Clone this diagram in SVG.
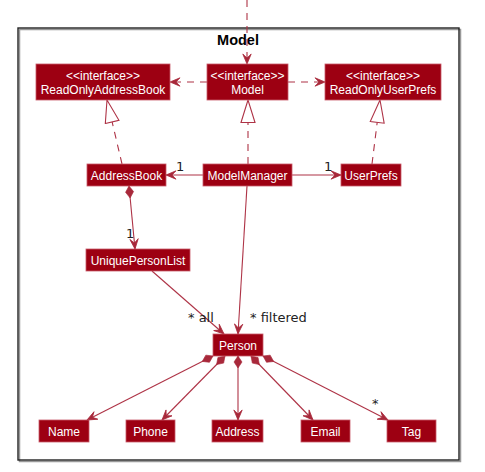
<svg xmlns="http://www.w3.org/2000/svg" width="485" height="472" viewBox="0 0 485 472">
<style>
.box{fill:#9D0012;stroke:#C85A6A;stroke-width:0.8}
.t{fill:#FFFFFF;font-family:"Liberation Sans",Arial,sans-serif;font-size:12px;text-anchor:middle}
.ln{fill:none;stroke:#AE3346;stroke-width:1.1}
.dash{stroke-dasharray:7,6}
.lbl{fill:#222;font-family:"DejaVu Sans",sans-serif;font-size:13px}
.ttl{fill:#000;font-family:"Liberation Sans",Arial,sans-serif;font-size:14.5px;font-weight:bold;text-anchor:middle}
</style>
<defs>
<marker id="arr" markerWidth="12" markerHeight="10" refX="11" refY="5" orient="auto" markerUnits="userSpaceOnUse">
<path d="M11,5 L1,0.8 L5,5 L1,9.2 Z" fill="#A8283A" stroke="#A8283A" stroke-width="0.8"/>
</marker>
<marker id="tri" markerWidth="25" markerHeight="17" refX="23.5" refY="8" orient="auto" markerUnits="userSpaceOnUse">
<path d="M23.5,8 L1,1 L1,15 Z" fill="#FFFFFF" stroke="#AE3346" stroke-width="1.1"/>
</marker>
<marker id="dia" markerWidth="14" markerHeight="10" refX="0.5" refY="5" orient="auto" markerUnits="userSpaceOnUse">
<path d="M0.5,5 L6.5,1 L12.5,5 L6.5,9 Z" fill="#A8283A" stroke="#A8283A" stroke-width="0.6"/>
</marker>
</defs>
<rect x="0" y="0" width="485" height="472" fill="#FFFFFF"/>
<g id="frame">
<rect x="19.5" y="29.5" width="441" height="432" fill="none" stroke="#999" stroke-width="1.5"/>
<rect x="18" y="28" width="441" height="432" fill="none" stroke="#222" stroke-width="1.4"/>
<text class="ttl" x="238" y="45">Model</text>
</g>
<g id="connectors">
<line class="ln dash" x1="247" y1="0" x2="247" y2="64" marker-end="url(#arr)"/>
<line class="ln dash" x1="207" y1="82" x2="170" y2="82" marker-end="url(#arr)"/>
<line class="ln dash" x1="288" y1="82" x2="325" y2="82" marker-end="url(#arr)"/>
<line class="ln dash" x1="122" y1="164" x2="107" y2="100" marker-end="url(#tri)"/>
<line class="ln dash" x1="248" y1="164" x2="248" y2="100" marker-end="url(#tri)"/>
<line class="ln dash" x1="372" y1="164" x2="380" y2="100" marker-end="url(#tri)"/>
<line class="ln" x1="203" y1="175" x2="166" y2="175" marker-end="url(#arr)"/>
<line class="ln" x1="292" y1="175" x2="341" y2="175" marker-end="url(#arr)"/>
<line class="ln" x1="129" y1="186" x2="135" y2="249" marker-start="url(#dia)" marker-end="url(#arr)"/>
<line class="ln" x1="152" y1="271" x2="224" y2="334" marker-end="url(#arr)"/>
<line class="ln" x1="247" y1="186" x2="238" y2="334" marker-end="url(#arr)"/>
<line class="ln" x1="213" y1="356" x2="87" y2="420" marker-start="url(#dia)" marker-end="url(#arr)"/>
<line class="ln" x1="225" y1="356" x2="162" y2="420" marker-start="url(#dia)" marker-end="url(#arr)"/>
<line class="ln" x1="238" y1="356" x2="238" y2="420" marker-start="url(#dia)" marker-end="url(#arr)"/>
<line class="ln" x1="251" y1="356" x2="313" y2="420" marker-start="url(#dia)" marker-end="url(#arr)"/>
<line class="ln" x1="263" y1="356" x2="388" y2="420" marker-start="url(#dia)" marker-end="url(#arr)"/>
<text class="lbl" x="176" y="171">1</text>
<text class="lbl" x="324" y="171">1</text>
<text class="lbl" x="126" y="238">1</text>
<text class="lbl" x="188" y="322">* all</text>
<text class="lbl" x="250" y="322">* filtered</text>
<text class="lbl" x="372" y="408" font-size="11">*</text>
</g>
<g id="ReadOnlyAddressBook">
<rect class="box" x="36" y="64" width="134" height="36"/>
<text class="t" x="103" y="80">&lt;&lt;interface&gt;&gt;</text>
<text class="t" x="103" y="94">ReadOnlyAddressBook</text>
</g>
<g id="Model">
<rect class="box" x="207" y="64" width="81" height="36"/>
<text class="t" x="247.5" y="80">&lt;&lt;interface&gt;&gt;</text>
<text class="t" x="247.5" y="94">Model</text>
</g>
<g id="ReadOnlyUserPrefs">
<rect class="box" x="325" y="64" width="116" height="36"/>
<text class="t" x="383" y="80">&lt;&lt;interface&gt;&gt;</text>
<text class="t" x="383" y="94">ReadOnlyUserPrefs</text>
</g>
<g id="AddressBook">
<rect class="box" x="87" y="164" width="79" height="22"/>
<text class="t" x="126.5" y="179.5">AddressBook</text>
</g>
<g id="ModelManager">
<rect class="box" x="203" y="164" width="89" height="22"/>
<text class="t" x="247.5" y="179.5">ModelManager</text>
</g>
<g id="UserPrefs">
<rect class="box" x="341" y="164" width="60" height="22"/>
<text class="t" x="371" y="179.5">UserPrefs</text>
</g>
<g id="UniquePersonList">
<rect class="box" x="86" y="249" width="104" height="22"/>
<text class="t" x="138" y="264.5">UniquePersonList</text>
</g>
<g id="Person">
<rect class="box" x="213" y="334" width="50" height="22"/>
<text class="t" x="238" y="349.5">Person</text>
</g>
<g id="Name">
<rect class="box" x="39" y="420" width="50" height="22"/>
<text class="t" x="64" y="435.5">Name</text>
</g>
<g id="Phone">
<rect class="box" x="126" y="420" width="49" height="22"/>
<text class="t" x="150.5" y="435.5">Phone</text>
</g>
<g id="Address">
<rect class="box" x="212" y="420" width="51" height="22"/>
<text class="t" x="237.5" y="435.5">Address</text>
</g>
<g id="Email">
<rect class="box" x="301" y="420" width="49" height="22"/>
<text class="t" x="325.5" y="435.5">Email</text>
</g>
<g id="Tag">
<rect class="box" x="387" y="420" width="49" height="22"/>
<text class="t" x="411.5" y="435.5">Tag</text>
</g>
</svg>
